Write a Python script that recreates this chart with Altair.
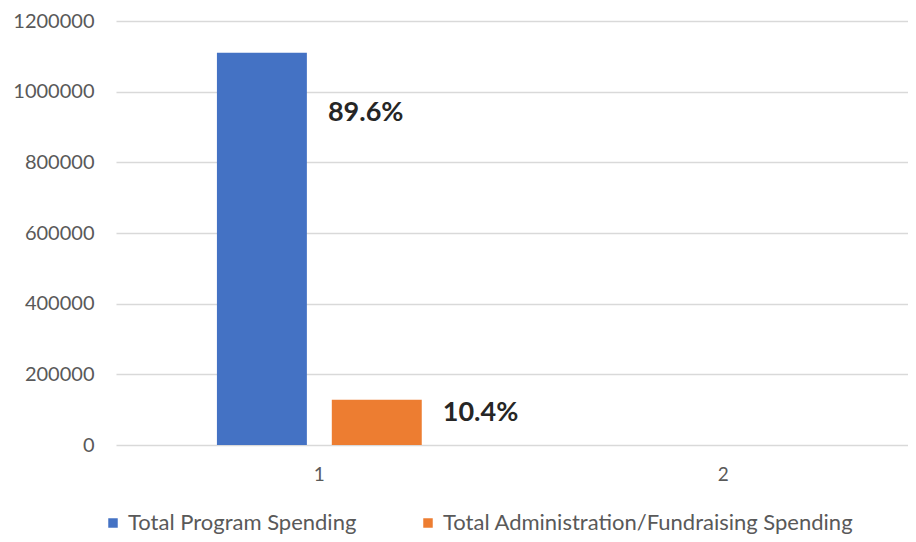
import altair as alt
import pandas as pd

categories = ["1", "1", "2", "2"]
series = ["Total Program Spending", "Total Administration/Fundraising Spending",
          "Total Program Spending", "Total Administration/Fundraising Spending"]
values = [1110000, 128000, None, None]

label_cat = ["1", "1"]
label_series = ["Total Program Spending", "Total Administration/Fundraising Spending"]
label_text = ["89.6%", "10.4%"]
label_anchor = [940000, 90000]

series_order = ["Total Program Spending", "Total Administration/Fundraising Spending"]
colors = ["#4472C4", "#ED7D31"]
y_ticks = [0, 200000, 400000, 600000, 800000, 1000000, 1200000]

df = pd.DataFrame({"cat": categories, "series": series, "value": values})
lab = pd.DataFrame({"cat": label_cat, "series": label_series, "text": label_text, "anchor": label_anchor})

FONT = "Lato"
GRAY = "#595959"

x_enc = alt.X("cat:N", title=None, sort=["1", "2"],
              scale=alt.Scale(domain=["1", "2"], paddingInner=0.493, paddingOuter=0.2267, align=0.551),
              axis=alt.Axis(labelAngle=0, domain=False, ticks=False, grid=False,
                            labelFont=FONT, labelFontSize=19, labelColor=GRAY, labelPadding=20))
xoff = alt.XOffset("series:N", sort=series_order,
                   scale=alt.Scale(domain=series_order, paddingInner=0.217, paddingOuter=0))

bars = alt.Chart(df).mark_bar().encode(
    x=x_enc,
    xOffset=xoff,
    y=alt.Y("value:Q", title=None,
            scale=alt.Scale(domain=[0, 1200000], nice=False),
            axis=alt.Axis(values=y_ticks, format="d", domain=False, ticks=False,
                          gridColor="#d9d9d9", gridWidth=1.3,
                          labelFont=FONT, labelFontSize=20, labelColor=GRAY, labelPadding=22)),
    color=alt.Color("series:N", sort=series_order,
                    scale=alt.Scale(domain=series_order, range=colors),
                    legend=alt.Legend(title=None, orient="none", direction="horizontal",
                                      legendX=-14, legendY=491, symbolType="square",
                                      symbolSize=90, symbolStrokeWidth=0, labelFont=FONT,
                                      labelFontSize=22, labelColor=GRAY, labelOffset=4,
                                      labelLimit=0, columnPadding=60, padding=0)),
)

texts = alt.Chart(lab).mark_text(align="left", baseline="middle", dx=66,
                                 font=FONT, fontSize=27, fontWeight="bold", color="#262626").encode(
    x=alt.X("cat:N", sort=["1", "2"]),
    xOffset=alt.XOffset("series:N", sort=series_order),
    y=alt.Y("anchor:Q"),
    text="text:N",
)

chart = alt.layer(bars, texts).properties(
    width=792, height=424,
    background="white",
    autosize=alt.AutoSizeParams(type="none"),
    padding={"left": 108, "top": 13, "right": 0, "bottom": 89},
).configure_view(stroke=None)

chart.save("out.html", embed_options={"renderer": "svg", "actions": False})
